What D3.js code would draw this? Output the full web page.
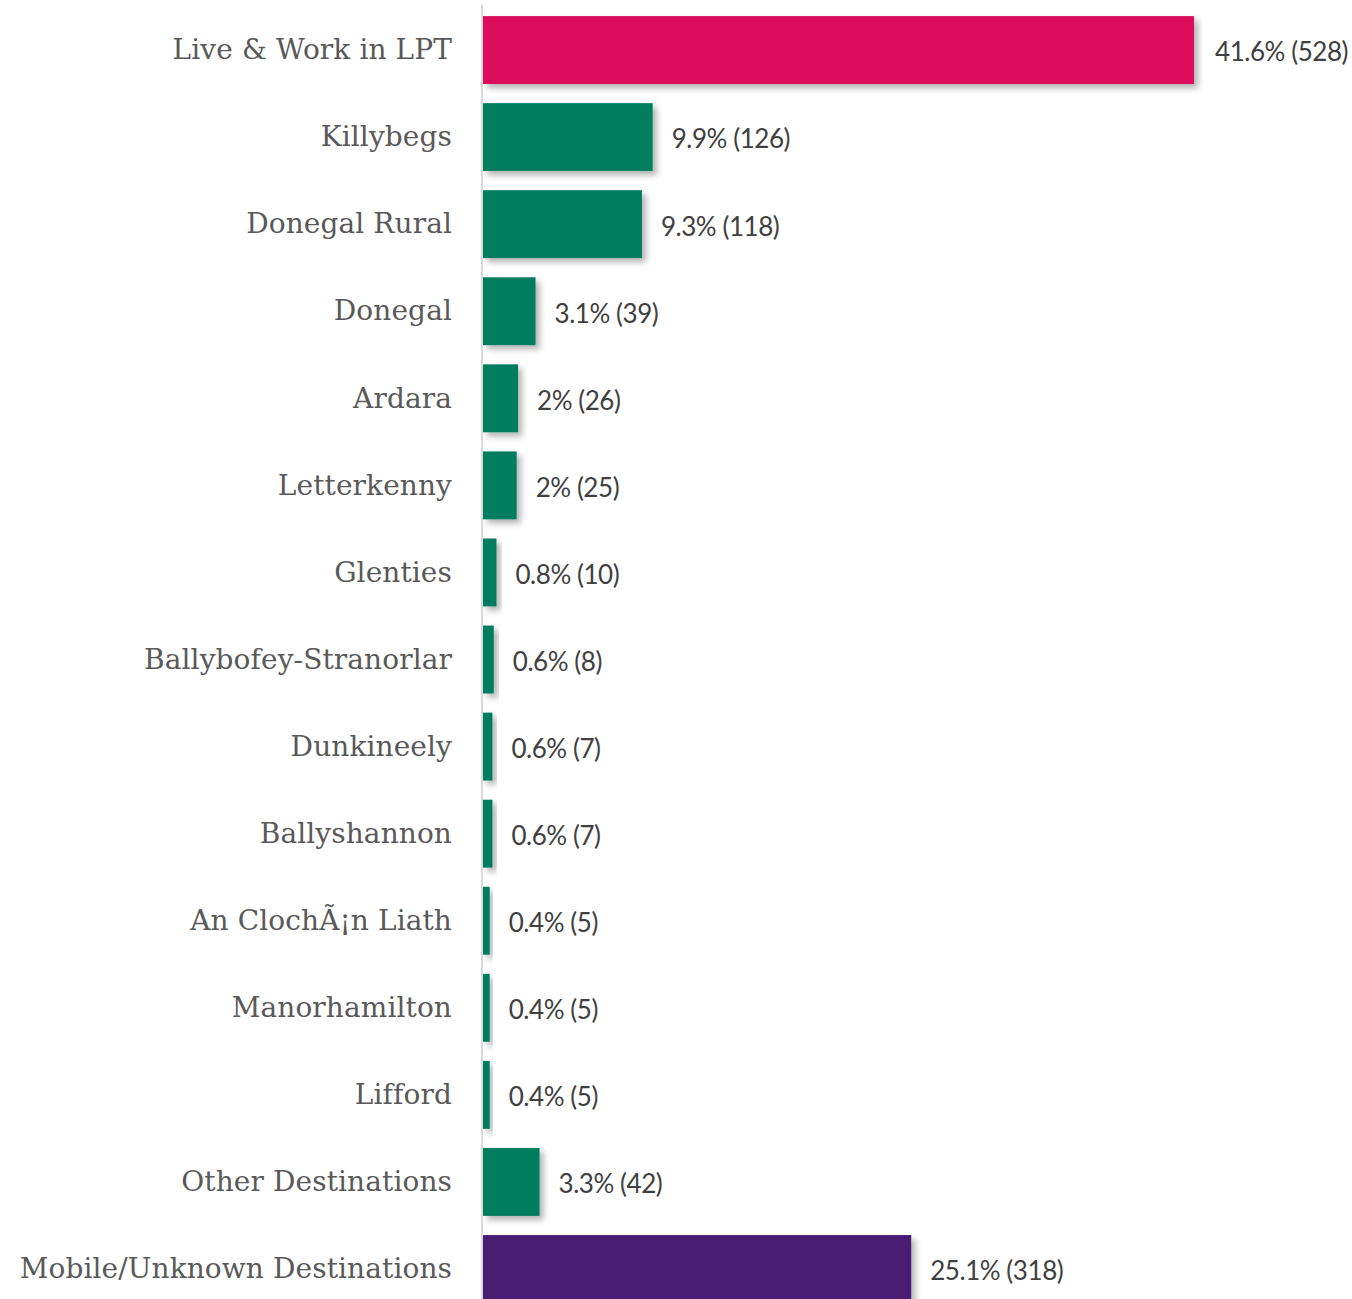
<!DOCTYPE html>
<html><head><meta charset="utf-8">
<script src="https://cdn.jsdelivr.net/npm/d3@7/dist/d3.min.js"></script>
<style>html,body{margin:0;padding:0;background:#fff;overflow:hidden}</style>
</head><body>
<script>
const categories = ["Live & Work in LPT","Killybegs","Donegal Rural","Donegal","Ardara","Letterkenny","Glenties","Ballybofey-Stranorlar","Dunkineely","Ballyshannon","An ClochÃ¡n Liath","Manorhamilton","Lifford","Other Destinations","Mobile/Unknown Destinations"];
const counts = [528,126,118,39,26,25,10,8,7,7,5,5,5,42,318];
const percents = ["41.6%","9.9%","9.3%","3.1%","2%","2%","0.8%","0.6%","0.6%","0.6%","0.4%","0.4%","0.4%","3.3%","25.1%"];
const barColors = ["#DB0A5B","#007C5E","#007C5E","#007C5E","#007C5E","#007C5E","#007C5E","#007C5E","#007C5E","#007C5E","#007C5E","#007C5E","#007C5E","#007C5E","#461E72"];

const W = 1352, H = 1299;
const svg = d3.select("body").append("svg").attr("width", W).attr("height", H);
const defs = svg.append("defs");
const f = defs.append("filter").attr("id","sh").attr("x","-20%").attr("y","-20%").attr("width","160%").attr("height","160%");
f.append("feDropShadow").attr("dx",4).attr("dy",4).attr("stdDeviation",3).attr("flood-color","#000").attr("flood-opacity",0.3);

const x0 = 483;
const x = d3.scaleLinear().domain([0, 528]).range([x0, 1194]);
const y = d3.scaleBand().domain(categories).range([6.5, 6.5 + 87.07*15]).paddingInner(0.22).paddingOuter(0.11);

svg.append("g").selectAll("rect").data(categories).join("rect")
  .attr("x", x0).attr("y", d => y(d)).attr("width", (d,i) => x(counts[i]) - x0)
  .attr("height", y.bandwidth()).attr("fill", (d,i) => barColors[i]).attr("filter","url(#sh)");

svg.append("line").attr("x1", 482).attr("x2", 482).attr("y1", 5).attr("y2", H)
  .attr("stroke", "#d9d9d9").attr("stroke-width", 2);

svg.append("g").selectAll("text").data(categories).join("text")
  .attr("x", 452).attr("y", d => y(d) + y.bandwidth()/2).attr("dy","0.33em")
  .attr("text-anchor","end").attr("fill","#595959")
  .style("font-family","'DejaVu Serif', serif").style("font-size","28px").style("letter-spacing","0.1px")
  .text(d => d);

svg.append("g").selectAll("text").data(categories).join("text")
  .attr("x", (d,i) => x(counts[i]) + 19 + (i === 0 ? 2 : 0)).attr("y", d => y(d) + y.bandwidth()/2 + 2).attr("dy","0.36em")
  .attr("fill","#404040")
  .style("font-family","Lato, sans-serif").style("font-size","26px").style("letter-spacing","-0.45px")
  .text((d,i) => percents[i] + " (" + counts[i] + ")");
</script>
</body></html>
